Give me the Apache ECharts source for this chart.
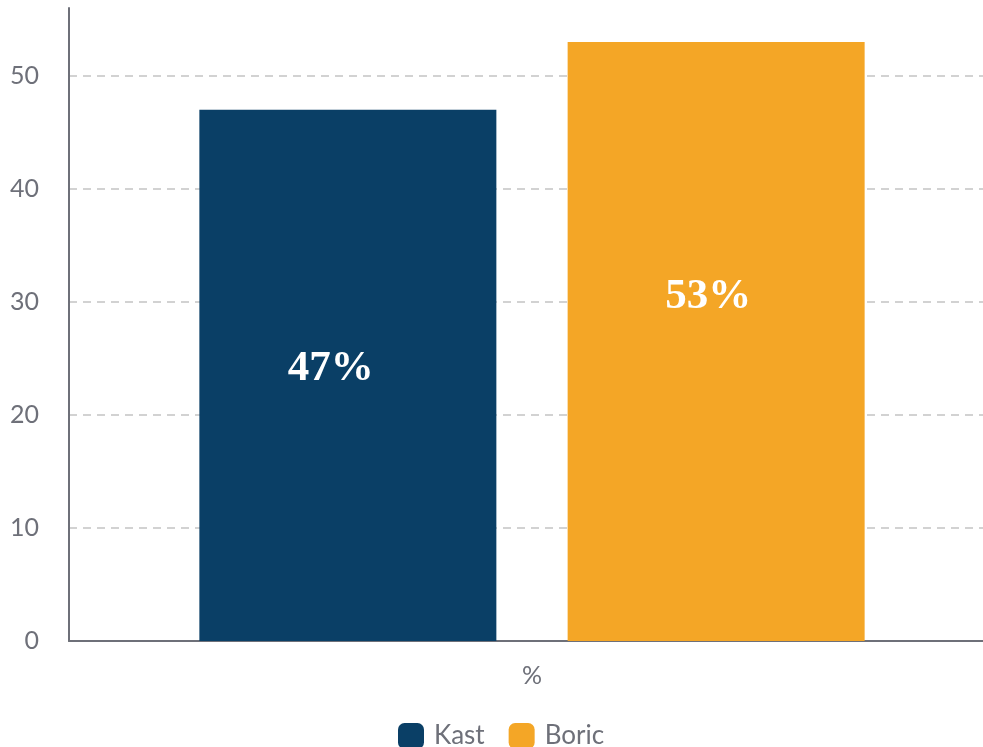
<!DOCTYPE html>
<html lang="es">
<head>
    <meta charset="UTF-8">
    <title>Kast vs Boric</title>
    <script src="https://cdn.jsdelivr.net/npm/echarts@6/dist/echarts.min.js"></script>
</head>
<body style="margin:0;">
<div id="main" style="width:983px;height:747px;"></div>
<script type="text/javascript">
    // datos
    let categories = ['%'];
    let candidates = ['Kast', 'Boric'];
    let values = [47, 53];
    let colors = ['#0a3f66', '#f4a626'];
    // desplazamiento de las etiquetas dentro de cada barra
    let labelOffsets = [[-17, 0], [-8, -4]];

    let chart = echarts.init(document.getElementById('main'));

    let option = {
        textStyle: {fontFamily: 'Lato'},
        grid: {left: 69, width: 926, top: 8, bottom: 106, outerBoundsMode: 'none'},
        legend: {
            top: 718,
            left: 393,
            itemWidth: 26,
            itemHeight: 26,
            itemGap: 24,
            icon: 'roundRect',
            textStyle: {fontSize: 26, color: '#6e7079', fontFamily: 'Lato', padding: [0, 0, 0, 5]},
            data: candidates
        },
        xAxis: {
            type: 'category',
            data: categories,
            axisLine: {lineStyle: {color: '#6e7079', width: 2}},
            axisTick: {show: false},
            axisLabel: {fontSize: 25, color: '#6e7079', margin: 22}
        },
        yAxis: {
            type: 'value',
            min: 0,
            max: 56,
            interval: 10,
            axisLine: {show: true, lineStyle: {color: '#6e7079', width: 2}},
            axisTick: {show: false},
            axisLabel: {fontSize: 25, color: '#6e7079', margin: 30, showMaxLabel: false},
            splitLine: {
                showMaxLine: false,
                lineStyle: {type: [8, 6], color: '#c4c4c4', width: 1.5}
            }
        },
        series: candidates.map((name, i) => ({
            name: name,
            type: 'bar',
            barWidth: 297,
            barGap: '24%',
            itemStyle: {color: colors[i]},
            label: {
                show: true,
                position: ['50%', 259],
                offset: labelOffsets[i],
                align: 'center',
                verticalAlign: 'middle',
                formatter: '{c}%',
                color: '#fff',
                fontFamily: 'Liberation Serif',
                fontWeight: 'bold',
                fontSize: 43
            },
            data: [values[i]]
        }))
    };
    chart.setOption(option);
</script>
</body>
</html>
